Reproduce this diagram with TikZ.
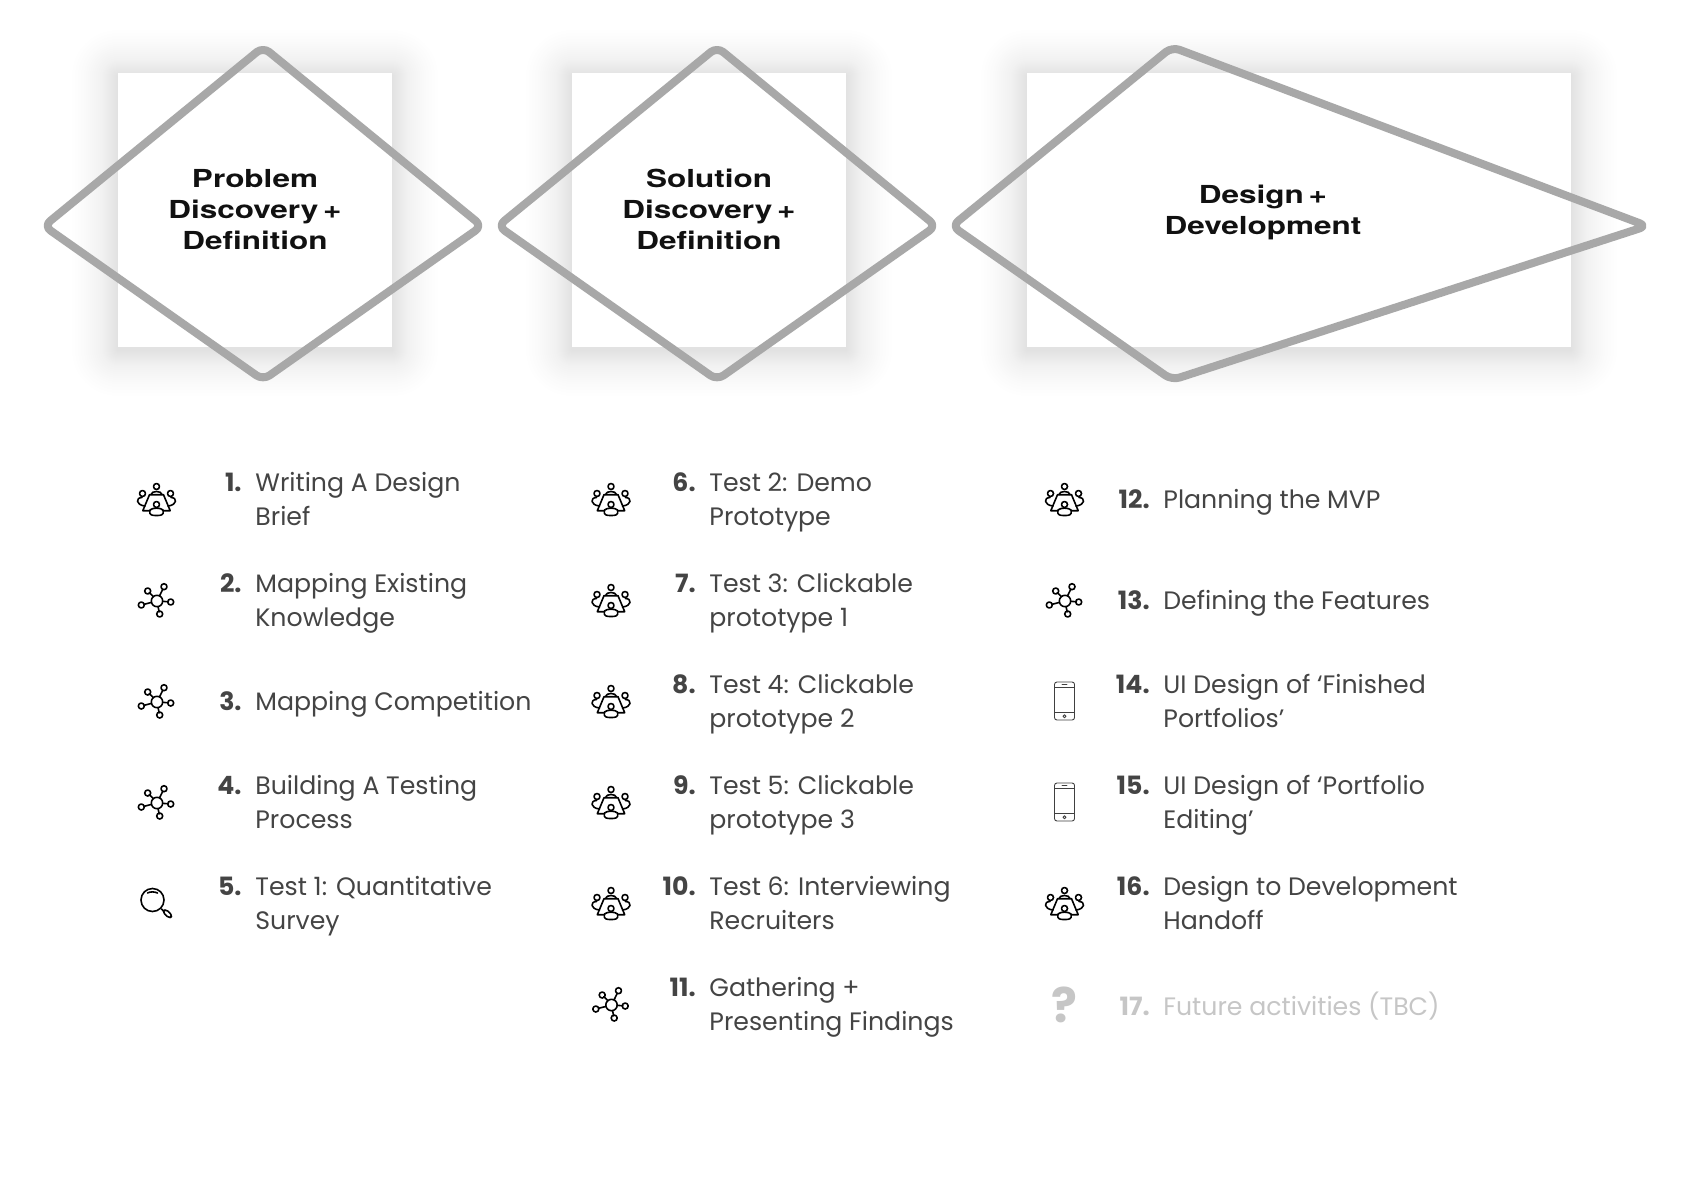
\documentclass[tikz,border=0pt]{standalone}
\usepackage{fontspec}
\setmainfont{Poppins}
\newfontfamily\titlefont[FakeStretch=1.27,WordSpace=0.55]{TeX Gyre Heros}
\usetikzlibrary{calc}
\definecolor{ink}{HTML}{444444}
\definecolor{faint}{HTML}{C6C6C6}
\definecolor{frame}{HTML}{A8A8A8}
\definecolor{titleink}{HTML}{111111}
\newcommand\lnstrut{\rule[-5.2pt]{0pt}{17pt}}
\tikzset{
  x=0.5pt,y=-0.5pt,
  diamondline/.style={draw=frame,line width=4pt,line join=round,rounded corners=4pt},
  titletext/.style={font=\titlefont\bfseries\fontsize{12.4}{15.5}\selectfont,text=titleink,align=center,inner sep=0pt},
  listtext/.style={font=\fontsize{12.6}{17}\selectfont,text=ink,align=left,anchor=west,inner sep=0pt},
  listnum/.style={font=\fontsize{12.6}{17}\selectfont\bfseries,text=ink,anchor=east,inner sep=0pt},
  iconline/.style={draw=black,line width=0.8pt,line cap=round,line join=round},
  phoneline/.style={draw=black!75,line width=0.45pt,line cap=round,line join=round},
  softshadow/.style={fill=black,opacity=0.0025},
  people/.pic={
    \draw[iconline] (0,-13.5) circle (3);
    \draw[iconline] (-14,-6.5) circle (3);
    \draw[iconline] (14,-6.5) circle (3);
    \draw[iconline] (0,4.5) circle (3);
    \draw[iconline] (7,10.7) -- (13.7,10.7) -- (7,-5.3) -- (-7,-5.3) -- (-13.7,10.7) -- (-7,10.7);
    \draw[iconline] (-5.5,-5.5) .. controls (-5,-9.5) and (5,-9.5) .. (5.5,-5.5);
    \draw[iconline] (-14.5,-2.5) .. controls (-21,-2.5) and (-21,5) .. (-11.5,6);
    \draw[iconline] (14.5,-2.5) .. controls (21,-2.5) and (21,5) .. (11.5,6);
    \draw[iconline] (-6.5,10) .. controls (-8,15.5) and (-4,15.5) .. (0,15.5) .. controls (4,15.5) and (8,15.5) .. (6.5,10) .. controls (4,7.5) and (-4,7.5) .. (-6.5,10) -- cycle;
  },
  network/.pic={
    \draw[iconline] (0,0) circle (5.7);
    \foreach \ax/\ay/\bx/\by in {-9.3/-10/-3.6/-4.3, 7/-14.3/2.5/-5, -15.7/4/-5.5/1.4, 13.7/1/5.7/0.3, 2.7/13/1/5.6}{
      \draw[iconline] (\ax,\ay) circle (3);
      \draw[iconline] (\bx,\by) -- ($(\bx,\by)!0.72!(\ax,\ay)$);
    }
  },
  lens/.pic={
    \draw[iconline] (-4,-4) circle (11.5);
    \draw[iconline] (-9,-11) .. controls (-6.5,-12.5) and (-2,-12.5) .. (1,-11);
    \draw[iconline] (5,5) -- (7,7);
    \draw[iconline,rounded corners=1.5pt] (6,8) -- (9,5) -- (16,11.5) -- (13,14.5) -- cycle;
  },
  phone/.pic={
    \draw[phoneline,rounded corners=1.2pt] (-10,-19) rectangle (10,19);
    \draw[phoneline] (-10,-14) -- (10,-14) (-10,11.5) -- (10,11.5);
    \draw[phoneline] (-2.5,-16.5) -- (2.5,-16.5);
    \draw[phoneline] (0,15.2) circle (1.5);
  },
}
\newcommand\listrow[6][ink]{%
  \node[listnum,text=#1] (n#2) at (#3-13,#4+#6+2) {\lnstrut #2.};
  \node[listtext,text=#1] (t#2) at (#3,#4+2) {#5};
}
\begin{document}
\begin{tikzpicture}
\useasboundingbox (0,0) rectangle (1701,1183);
\fill[white] (0,0) rectangle (1701,1183);
% shadows
\foreach \r in {1,2,...,16,18,20,...,34,37,40,43,46}{
  \fill[softshadow,rounded corners=\r*0.5pt] (118-\r,73-\r+3) rectangle (392+\r,347+\r+3);
  \fill[softshadow,rounded corners=\r*0.5pt] (572-\r,73-\r+3) rectangle (846+\r,347+\r+3);
  \fill[softshadow,rounded corners=\r*0.5pt] (1027-\r,73-\r+3) rectangle (1571+\r,347+\r+3);
}
\fill[white] (118,73) rectangle (392,347);
\fill[white] (572,73) rectangle (846,347);
\fill[white] (1027,73) rectangle (1571,347);
% outlines
\draw[diamondline] (44,226) -- (263,47) -- (482,226) -- (263,380) -- cycle;
\draw[diamondline] (498,226) -- (717,47) -- (936,226) -- (717,380) -- cycle;
\draw[diamondline] (952,226) -- (1172,47) -- (1647,226) -- (1172,380) -- cycle;
% titles
\node[titletext] (title1) at (255,210) {Problem\\Discovery +\\Definition};
\node[titletext] (title2) at (709,209.5) {Solution\\Discovery +\\Definition};
\node[titletext] (title3) at (1263,212) {Design +\\Development};
% column 1
\pic at (156.5,500) {people};
\listrow{1}{255}{500}{\lnstrut Writing A Design\\\lnstrut Brief}{-17}
\pic at (157,601) {network};
\listrow{2}{255}{601}{\lnstrut Mapping Existing\\\lnstrut Knowledge}{-17}
\pic at (157,702) {network};
\listrow{3}{255}{702}{\lnstrut Mapping Competition}{0}
\pic at (157,803) {network};
\listrow{4}{255}{803}{\lnstrut Building A Testing\\\lnstrut Process}{-17}
\pic at (156.5,904) {lens};
\listrow{5}{255}{904}{\lnstrut Test 1: Quantitative\\\lnstrut Survey}{-17}
% column 2
\pic at (611,500) {people};
\listrow{6}{709}{500}{\lnstrut Test 2: Demo\\\lnstrut Prototype}{-17}
\pic at (611,601) {people};
\listrow{7}{709}{601}{\lnstrut Test 3: Clickable\\\lnstrut prototype 1}{-17}
\pic at (611,702) {people};
\listrow{8}{709}{702}{\lnstrut Test 4: Clickable\\\lnstrut prototype 2}{-17}
\pic at (611,803) {people};
\listrow{9}{709}{803}{\lnstrut Test 5: Clickable\\\lnstrut prototype 3}{-17}
\pic at (611,904) {people};
\listrow{10}{709}{904}{\lnstrut Test 6: Interviewing\\\lnstrut Recruiters}{-17}
\pic at (611.5,1005) {network};
\listrow{11}{709}{1005}{\lnstrut Gathering +\\\lnstrut Presenting Findings}{-17}
% column 3
\pic at (1064.5,500) {people};
\listrow{12}{1163}{500}{\lnstrut Planning the MVP}{0}
\pic at (1065,601) {network};
\listrow{13}{1163}{601}{\lnstrut Defining the Features}{0}
\pic at (1064.5,701) {phone};
\listrow{14}{1163}{702}{\lnstrut UI Design of ‘Finished\\\lnstrut Portfolios’}{-17}
\pic at (1064.5,802) {phone};
\listrow{15}{1163}{803}{\lnstrut UI Design of ‘Portfolio\\\lnstrut Editing’}{-17}
\pic at (1064.5,904) {people};
\listrow{16}{1163}{904}{\lnstrut Design to Development\\\lnstrut Handoff}{-17}
\node[font=\fontsize{24}{24}\selectfont\bfseries,text=faint,inner sep=0pt] (q17) at (1064.5,1005) {?};
\listrow[faint]{17}{1163}{1007}{\lnstrut Future activities (TBC)}{0}
\end{tikzpicture}
\end{document}
